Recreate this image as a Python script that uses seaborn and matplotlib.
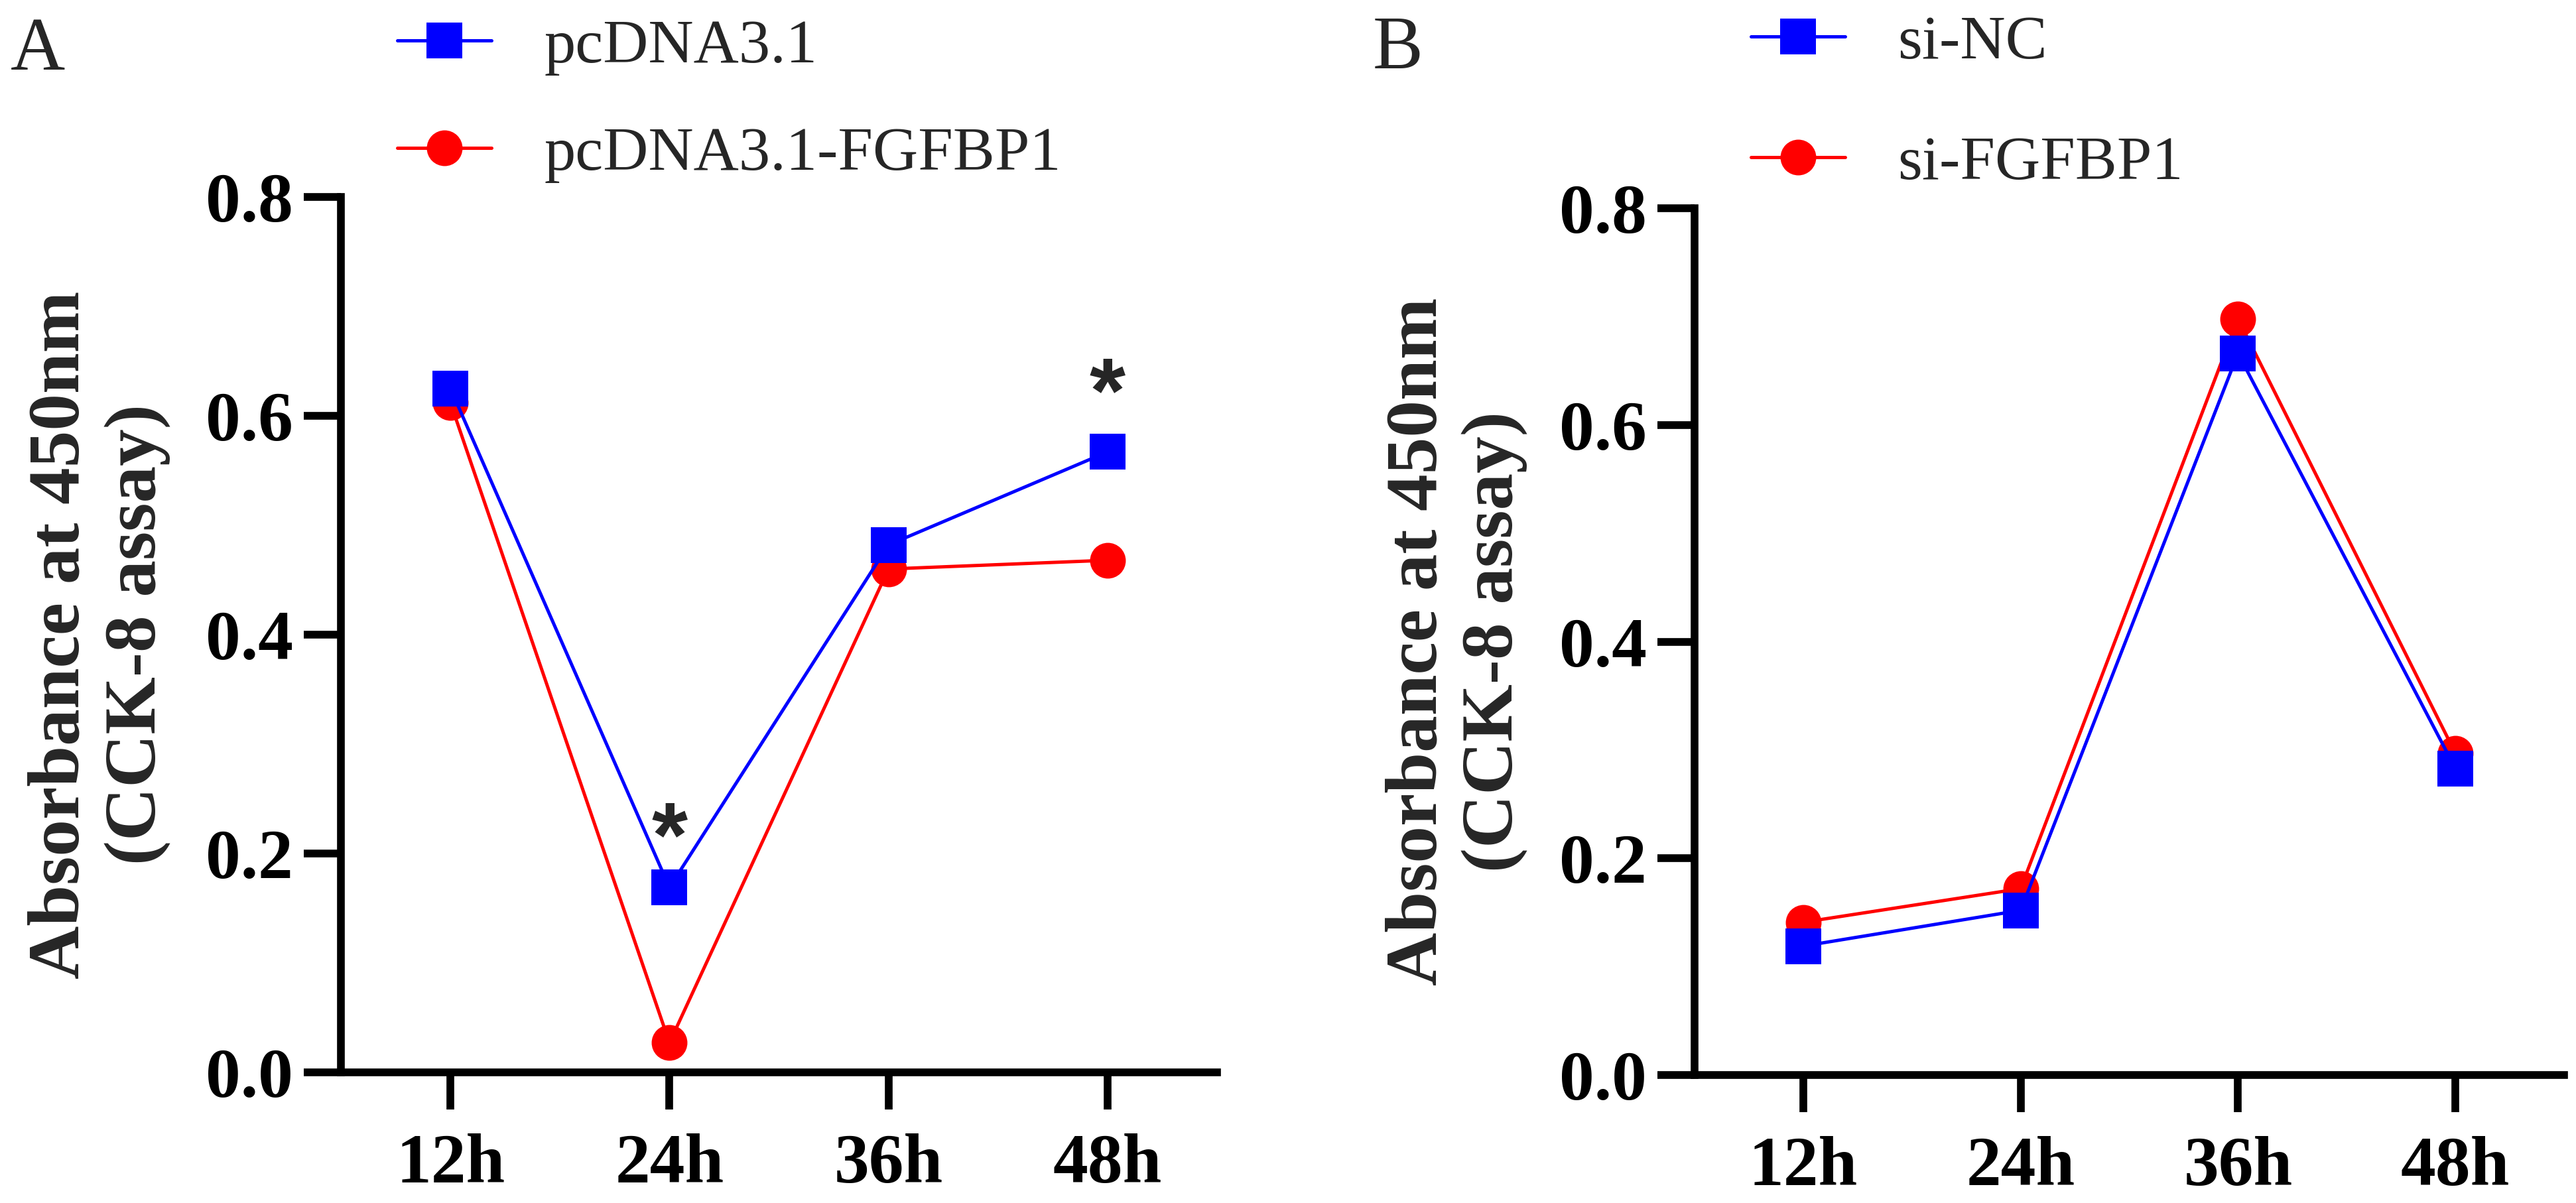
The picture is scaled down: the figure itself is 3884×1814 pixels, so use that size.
import numpy as np
import pandas as pd
import matplotlib
matplotlib.use('Agg')
import matplotlib.pyplot as plt
import seaborn as sns

# Data (CCK-8 absorbance at 450 nm)
time_points = ['12h', '24h', '36h', '48h']

a_groups = ['pcDNA3.1', 'pcDNA3.1-FGFBP1']
a_ctrl = [0.625, 0.169, 0.482, 0.567]
a_treat = [0.612, 0.027, 0.460, 0.468]
a_sig_x = ['24h', '48h']
a_sig_y = [0.210, 0.616]

b_groups = ['si-NC', 'si-FGFBP1']
b_ctrl = [0.119, 0.152, 0.666, 0.283]
b_treat = [0.141, 0.172, 0.698, 0.297]

yticks = [0.0, 0.2, 0.4, 0.6, 0.8]
ylabel = 'Absorbance at 450nm\n(CCK-8 assay)'

colors = ['#0000FF', '#FF0000']
markers = ['s', 'o']

sns.set_theme(style='ticks')
plt.rcParams['font.family'] = ['Liberation Serif', 'DejaVu Serif']

W, H, DPI = 3884, 1814, 200
fig = plt.figure(figsize=(W / DPI, H / DPI), dpi=DPI)


def make_df(groups, ctrl, treat):
    rows = []
    # treatment first so the control line is drawn on top, as in the original
    for g, vals in [(groups[1], treat), (groups[0], ctrl)]:
        for t, v in zip(time_points, vals):
            rows.append({'time': t, 'value': v, 'group': g})
    return pd.DataFrame(rows)


def draw_panel(ax, groups, ctrl, treat, legend_xy, labelspacing, ylabel_x):
    df = make_df(groups, ctrl, treat)
    order = [groups[1], groups[0]]
    sns.lineplot(data=df, x='time', y='value', hue='group', style='group',
                 hue_order=order, style_order=order,
                 palette={groups[0]: colors[0], groups[1]: colors[1]},
                 markers={groups[0]: markers[0], groups[1]: markers[1]},
                 dashes=False, markersize=19.4, markeredgewidth=0,
                 linewidth=1.8, ax=ax)

    ax.set_xlim(-0.5, 3.5)
    ax.set_ylim(0, 0.8)
    ax.set_yticks(yticks)
    ax.set_yticklabels([f'{v:.1f}' for v in yticks])
    ax.set_xlabel('')
    ax.set_ylabel(ylabel, fontsize=40, fontweight='bold', va='center',
                  linespacing=1.2)
    ax.yaxis.set_label_coords(ylabel_x, 0.5)

    sns.despine(ax=ax)
    for side in ['left', 'bottom']:
        ax.spines[side].set_linewidth(4.2)
        ax.spines[side].set_color('black')
    ax.tick_params(axis='both', which='major', length=20, width=4.2,
                   color='black', direction='out')
    ax.tick_params(axis='x', pad=13)
    ax.tick_params(axis='y', pad=6)
    for lab in ax.get_xticklabels() + ax.get_yticklabels():
        lab.set_fontsize(38)
        lab.set_fontweight('bold')
        lab.set_color('black')

    handles, labels = ax.get_legend_handles_labels()
    ax.legend(handles[::-1], labels[::-1], loc='upper left',
              bbox_to_anchor=legend_xy, bbox_transform=fig.transFigure,
              frameon=False, fontsize=34, borderpad=0, borderaxespad=0,
              handlelength=1.5, handletextpad=0.84, labelspacing=labelspacing,
              numpoints=1)


ax_a = fig.add_axes([514 / W, 1 - 1617 / H, 1321 / W, 1320 / H])
ax_b = fig.add_axes([2555 / W, 1 - 1621 / H, 1311 / W, 1307 / H])

draw_panel(ax_a, a_groups, a_ctrl, a_treat, (599 / W, 1 - 28 / H), 0.80, -0.2756)
draw_panel(ax_b, b_groups, b_ctrl, b_treat, (2640 / W, 1 - 22 / H), 1.01, -0.2738)

# significance marks
for x, y in zip(a_sig_x, a_sig_y):
    ax_a.text(time_points.index(x), y, '*', ha='center', va='center',
              fontsize=50, fontweight='bold',
              family=['Liberation Sans', 'DejaVu Sans'])

# panel letters
fig.text(16 / W, 1 - 105 / H, 'A', fontsize=41, ha='left', va='baseline')
fig.text(2070 / W, 1 - 103 / H, 'B', fontsize=41, ha='left', va='baseline')

fig.savefig('out.png', dpi=DPI, facecolor='white')
